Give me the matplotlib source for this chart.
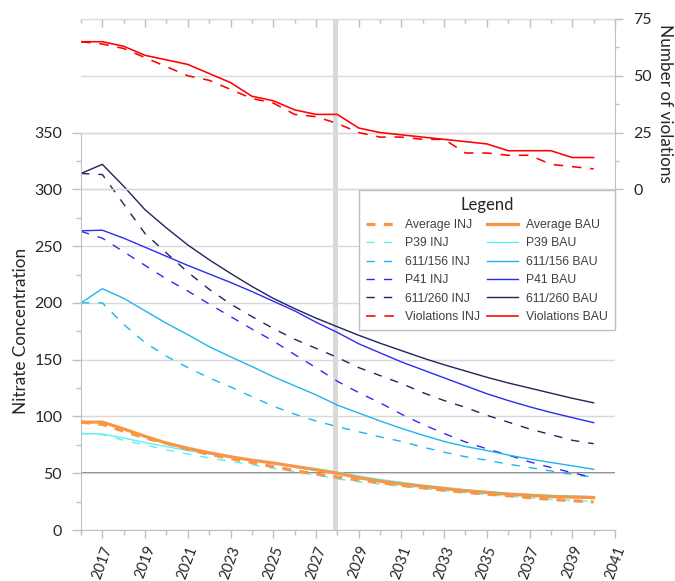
import numpy as np
import matplotlib
matplotlib.use('Agg')
import matplotlib.pyplot as plt
from matplotlib.ticker import FixedLocator

plt.rcParams['font.family'] = ['Lato', 'DejaVu Sans']

# %% data
years = np.arange(2016, 2041)

avg_inj = [95, 93, 87, 81, 76.5, 71, 66.7, 63, 59.5, 55.8, 52.3, 49.3, 46.5, 44, 41.8, 39.3, 37.2, 35, 33.2, 31.6, 30.2, 28.5, 27, 25.8, 24.7]
avg_bau = [95, 95, 89, 82.5, 76.5, 72, 68, 64.5, 61.5, 59, 56, 53, 50, 46, 43, 40.5, 38.5, 36.5, 34.5, 33, 31.5, 30.5, 29.5, 29, 28.5]
p39_inj = [85, 84, 79, 75, 70.5, 67, 63.5, 60.5, 57.5, 54.4, 51.5, 48.5, 45, 42.5, 40.5, 38.5, 36.5, 34.5, 32.8, 31.2, 29.8, 28.3, 27, 26, 25]
p39_bau = [85, 84.5, 81, 77, 73.5, 70, 67, 64, 61.5, 59, 56.5, 54, 51, 47.5, 44.5, 42, 39.5, 37.5, 35.5, 34, 32.5, 31.5, 30.5, 30, 29.5]
w156_inj = [200, 200, 181, 165, 153, 143, 134, 126, 117.5, 109, 102, 96, 91, 86.5, 82, 78, 73, 68.5, 64.5, 61.5, 58, 55, 52, 49, 46.5]
w156_bau = [200, 212.5, 204, 193, 182, 172, 161.5, 152.5, 144, 135, 127, 119, 110, 103, 96, 89.5, 83.5, 78, 73.5, 70, 66, 62.5, 59.5, 56.5, 53.5]
p41_inj = [263, 257, 245, 233, 221, 210.5, 199, 188, 177, 166.5, 154.5, 143, 131, 121, 112, 102, 93, 85, 77.5, 71.5, 66, 60, 55, 50.5, 46]
p41_bau = [263.5, 264, 257, 249, 241, 233, 225.5, 218, 210, 201.5, 193, 183, 174, 164, 156, 148, 141, 134, 127, 120, 114, 108.5, 103.5, 99, 94.5]
w260_inj = [314, 313, 287, 261, 244, 227, 212, 199, 188, 177.5, 168, 160, 152, 143, 136, 129, 121, 114, 108, 101, 95, 89, 84, 79, 76]
w260_bau = [314, 322, 302.7, 282, 266, 251, 238, 226, 214.5, 204, 195, 186.6, 179, 171.5, 164.5, 158, 151.5, 145.5, 140, 134.5, 129.5, 125, 120.5, 116, 112]
viol_inj = [65, 64, 62, 58, 54, 50, 48, 44, 40, 38, 33, 32, 29, 25, 23, 23, 22, 22, 16, 16, 15, 15, 11, 10, 9]
viol_bau = [65, 65, 63, 59, 57, 55, 51, 47, 41, 39, 35, 33, 33, 27, 25, 24, 23, 22, 21, 20, 17, 17, 17, 14, 14]

marker_year = 2027.88
limit = 50

# %% styles
gray = '#bfbfbf'
grid = '#d9d9d9'
c_avg = '#F79646'
c_p39 = '#5CF0F0'
c_156 = '#1EB4F2'
c_p41 = '#2B2BF5'
c_260 = '#22225E'
c_vio = '#FF0000'
thin_dash = (6, 6.5)

fig = plt.figure(figsize=(6.75, 5.81), dpi=100)
ax = fig.add_axes([81/675, 1-530/581, (615-81)/675, (530-19)/581])
ax2 = ax.twinx()

ax.axvline(marker_year, color=grid, lw=3.6, zorder=1.2)
ax.axhline(limit, color='#595959', lw=1.1, zorder=1.5)

lw = 1.0
h = {}
h['Average INJ'], = ax.plot(years, avg_inj, color=c_avg, lw=2.3, dashes=(2.8, 2.6), zorder=3)
h['P39 INJ'], = ax.plot(years, p39_inj, color=c_p39, lw=lw, dashes=thin_dash)
h['611/156 INJ'], = ax.plot(years, w156_inj, color=c_156, lw=lw, dashes=thin_dash)
h['P41 INJ'], = ax.plot(years, p41_inj, color=c_p41, lw=lw, dashes=thin_dash)
h['611/260 INJ'], = ax.plot(years, w260_inj, color=c_260, lw=lw, dashes=thin_dash)
h['Average BAU'], = ax.plot(years, avg_bau, color=c_avg, lw=2.3, zorder=3)
h['P39 BAU'], = ax.plot(years, p39_bau, color=c_p39, lw=lw)
h['611/156 BAU'], = ax.plot(years, w156_bau, color=c_156, lw=lw)
h['P41 BAU'], = ax.plot(years, p41_bau, color=c_p41, lw=lw)
h['611/260 BAU'], = ax.plot(years, w260_bau, color=c_260, lw=lw)
h['Violations INJ'], = ax2.plot(years, viol_inj, color=c_vio, lw=1.15, dashes=(6, 5.5))
h['Violations BAU'], = ax2.plot(years, viol_bau, color=c_vio, lw=1.15)

# %% x axis
ax.set_xlim(2016, 2041)
ax.xaxis.set_major_locator(FixedLocator(range(2017, 2042, 2)))
ax.xaxis.set_minor_locator(FixedLocator(range(2016, 2041, 2)))
ax.tick_params(axis='x', which='major', length=6, width=1, color=gray, pad=4,
               labelsize=10.5, labelrotation=70, labelcolor='#262626')
ax.tick_params(axis='x', which='minor', length=3.5, width=1, color=gray)

top = ax.secondary_xaxis('top')
top.xaxis.set_major_locator(FixedLocator(range(2017, 2042, 2)))
top.xaxis.set_minor_locator(FixedLocator(range(2016, 2041, 2)))
top.tick_params(axis='x', which='major', direction='in', length=6, width=1, color=gray, labeltop=False)
top.tick_params(axis='x', which='minor', direction='in', length=3, width=1, color=gray)
top.spines['top'].set_color(gray)

# %% left axis (nitrate)
ax.set_ylim(0, 450)
ax.yaxis.set_major_locator(FixedLocator(range(0, 351, 50)))
ax.yaxis.set_minor_locator(FixedLocator(range(25, 350, 50)))
ax.tick_params(axis='y', which='major', length=6.5, width=1, color=gray, pad=7,
               labelsize=11.5, labelcolor='#262626')
ax.tick_params(axis='y', which='minor', length=3.5, width=1, color=gray)
ax.grid(axis='y', which='major', color=grid, lw=1, zorder=0)
ax.spines['left'].set_bounds(0, 350)
ax.spines['left'].set_color(gray)
ax.spines['bottom'].set_color(gray)
ax.spines['top'].set_visible(False)
ax.spines['right'].set_visible(False)

# %% right axis (violations)
ax2.set_ylim(-150, 75)
ax2.yaxis.set_major_locator(FixedLocator([0, 25, 50, 75]))
ax2.yaxis.set_minor_locator(FixedLocator([12.5, 37.5, 62.5]))
ax2.tick_params(axis='y', which='major', length=6, width=1, color=gray, pad=7,
                labelsize=11.5, labelcolor='#262626')
ax2.tick_params(axis='y', which='minor', length=3, width=1, color=gray)
ax2.grid(axis='y', which='major', color=grid, lw=1, zorder=0)
ax2.spines['right'].set_bounds(0, 75)
ax2.spines['right'].set_color(gray)
for s in ['left', 'top', 'bottom']:
    ax2.spines[s].set_visible(False)

fig.text(21/675, 1-331/581, 'Nitrate Concentration', rotation=90, ha='center', va='center',
         fontsize=12.3, color='#262626')
fig.text(665/675, 1-103/581, 'Number of violations', rotation=270, ha='center', va='center',
         fontsize=12.3, color='#262626')

# %% legend
order = ['Average INJ', 'P39 INJ', '611/156 INJ', 'P41 INJ', '611/260 INJ', 'Violations INJ',
         'Average BAU', 'P39 BAU', '611/156 BAU', 'P41 BAU', '611/260 BAU', 'Violations BAU']
leg = ax2.legend([h[k] for k in order], order, ncol=2, title='Legend', loc='upper right',
                 bbox_to_anchor=(1.0, (530-190)/511), borderaxespad=0, fancybox=False,
                 framealpha=1, edgecolor=gray, handlelength=2.5, handletextpad=0.7,
                 columnspacing=0.6, labelspacing=0.52, borderpad=0.55,
                 prop={'family': ['Liberation Sans'], 'size': 8.8})
leg.get_title().set_fontsize(12)
leg.get_title().set_color('#262626')
for t in leg.get_texts():
    t.set_color('#404040')
leg.get_frame().set_linewidth(1)

fig.savefig('out.png', dpi=100)
